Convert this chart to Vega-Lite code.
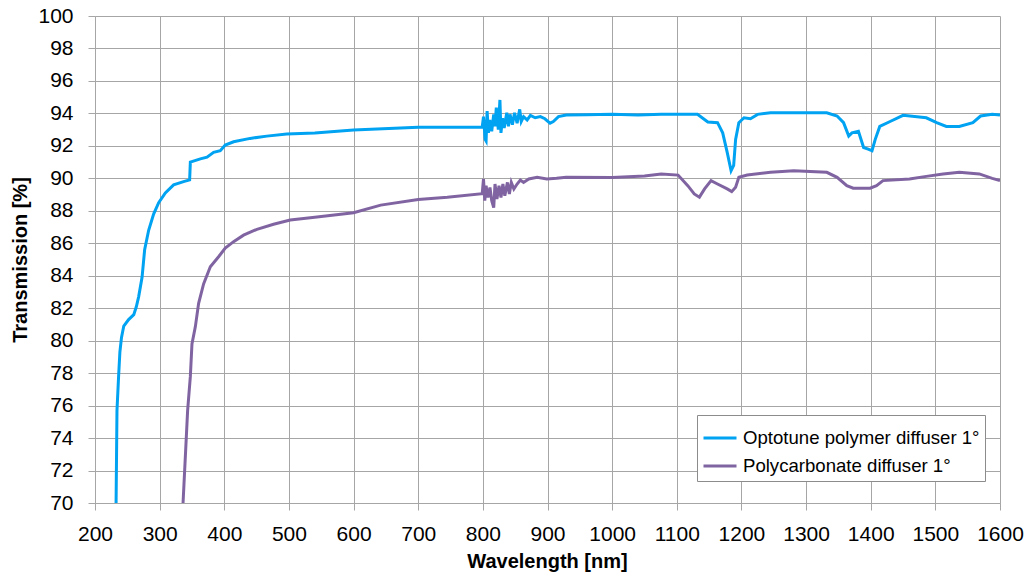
{
  "$schema": "https://vega.github.io/schema/vega-lite/v6.json",
  "width": 905,
  "height": 487,
  "autosize": "none",
  "padding": {"left": 95, "top": 16, "right": 27, "bottom": 77},
  "background": "white",
  "config": {"view": {"stroke": null}, "font": "Liberation Sans"},
  "data": {
    "values": [
      {"series": "Optotune polymer diffuser 1°", "wl": 232.6, "t": 70},
      {"series": "Optotune polymer diffuser 1°", "wl": 234, "t": 75.7},
      {"series": "Optotune polymer diffuser 1°", "wl": 236.5, "t": 77.8},
      {"series": "Optotune polymer diffuser 1°", "wl": 238.5, "t": 79.3},
      {"series": "Optotune polymer diffuser 1°", "wl": 241, "t": 80.2},
      {"series": "Optotune polymer diffuser 1°", "wl": 244.5, "t": 80.9},
      {"series": "Optotune polymer diffuser 1°", "wl": 252, "t": 81.3},
      {"series": "Optotune polymer diffuser 1°", "wl": 260, "t": 81.6},
      {"series": "Optotune polymer diffuser 1°", "wl": 264, "t": 82.1},
      {"series": "Optotune polymer diffuser 1°", "wl": 267.5, "t": 82.7},
      {"series": "Optotune polymer diffuser 1°", "wl": 272.8, "t": 83.9},
      {"series": "Optotune polymer diffuser 1°", "wl": 276.8, "t": 85.6},
      {"series": "Optotune polymer diffuser 1°", "wl": 283, "t": 86.8},
      {"series": "Optotune polymer diffuser 1°", "wl": 290.7, "t": 87.8},
      {"series": "Optotune polymer diffuser 1°", "wl": 298.5, "t": 88.5},
      {"series": "Optotune polymer diffuser 1°", "wl": 308.8, "t": 89.1},
      {"series": "Optotune polymer diffuser 1°", "wl": 321.6, "t": 89.6},
      {"series": "Optotune polymer diffuser 1°", "wl": 337, "t": 89.8},
      {"series": "Optotune polymer diffuser 1°", "wl": 346.4, "t": 89.9},
      {"series": "Optotune polymer diffuser 1°", "wl": 347.5, "t": 91.0},
      {"series": "Optotune polymer diffuser 1°", "wl": 363, "t": 91.2},
      {"series": "Optotune polymer diffuser 1°", "wl": 373.3, "t": 91.3},
      {"series": "Optotune polymer diffuser 1°", "wl": 383.5, "t": 91.6},
      {"series": "Optotune polymer diffuser 1°", "wl": 393.8, "t": 91.7},
      {"series": "Optotune polymer diffuser 1°", "wl": 401.5, "t": 92.05},
      {"series": "Optotune polymer diffuser 1°", "wl": 414.4, "t": 92.25},
      {"series": "Optotune polymer diffuser 1°", "wl": 440, "t": 92.46},
      {"series": "Optotune polymer diffuser 1°", "wl": 465.8, "t": 92.6},
      {"series": "Optotune polymer diffuser 1°", "wl": 496.6, "t": 92.73},
      {"series": "Optotune polymer diffuser 1°", "wl": 540, "t": 92.8},
      {"series": "Optotune polymer diffuser 1°", "wl": 600, "t": 92.98},
      {"series": "Optotune polymer diffuser 1°", "wl": 700, "t": 93.14},
      {"series": "Optotune polymer diffuser 1°", "wl": 799, "t": 93.15},
      {"series": "Optotune polymer diffuser 1°", "wl": 801, "t": 93.8},
      {"series": "Optotune polymer diffuser 1°", "wl": 803.5, "t": 92.4},
      {"series": "Optotune polymer diffuser 1°", "wl": 805, "t": 92.3},
      {"series": "Optotune polymer diffuser 1°", "wl": 806.6, "t": 94.15},
      {"series": "Optotune polymer diffuser 1°", "wl": 808.6, "t": 92.8},
      {"series": "Optotune polymer diffuser 1°", "wl": 810.7, "t": 93.6},
      {"series": "Optotune polymer diffuser 1°", "wl": 813.7, "t": 92.9},
      {"series": "Optotune polymer diffuser 1°", "wl": 816.8, "t": 93.94},
      {"series": "Optotune polymer diffuser 1°", "wl": 818.8, "t": 93.2},
      {"series": "Optotune polymer diffuser 1°", "wl": 820.8, "t": 94.35},
      {"series": "Optotune polymer diffuser 1°", "wl": 823.9, "t": 93.0},
      {"series": "Optotune polymer diffuser 1°", "wl": 826.4, "t": 94.83},
      {"series": "Optotune polymer diffuser 1°", "wl": 828, "t": 92.8},
      {"series": "Optotune polymer diffuser 1°", "wl": 830.5, "t": 93.7},
      {"series": "Optotune polymer diffuser 1°", "wl": 833, "t": 93.1},
      {"series": "Optotune polymer diffuser 1°", "wl": 837, "t": 94.04},
      {"series": "Optotune polymer diffuser 1°", "wl": 839.6, "t": 93.2},
      {"series": "Optotune polymer diffuser 1°", "wl": 842, "t": 93.94},
      {"series": "Optotune polymer diffuser 1°", "wl": 845.7, "t": 93.3},
      {"series": "Optotune polymer diffuser 1°", "wl": 849, "t": 94.04},
      {"series": "Optotune polymer diffuser 1°", "wl": 853, "t": 93.4},
      {"series": "Optotune polymer diffuser 1°", "wl": 857, "t": 94.25},
      {"series": "Optotune polymer diffuser 1°", "wl": 859.4, "t": 93.5},
      {"series": "Optotune polymer diffuser 1°", "wl": 863, "t": 93.8},
      {"series": "Optotune polymer diffuser 1°", "wl": 868.5, "t": 93.6},
      {"series": "Optotune polymer diffuser 1°", "wl": 873.6, "t": 93.88},
      {"series": "Optotune polymer diffuser 1°", "wl": 881, "t": 93.73},
      {"series": "Optotune polymer diffuser 1°", "wl": 889, "t": 93.8},
      {"series": "Optotune polymer diffuser 1°", "wl": 896, "t": 93.67},
      {"series": "Optotune polymer diffuser 1°", "wl": 901, "t": 93.5},
      {"series": "Optotune polymer diffuser 1°", "wl": 904, "t": 93.4},
      {"series": "Optotune polymer diffuser 1°", "wl": 909, "t": 93.5},
      {"series": "Optotune polymer diffuser 1°", "wl": 917, "t": 93.8},
      {"series": "Optotune polymer diffuser 1°", "wl": 929, "t": 93.9},
      {"series": "Optotune polymer diffuser 1°", "wl": 960, "t": 93.92},
      {"series": "Optotune polymer diffuser 1°", "wl": 1000, "t": 93.94},
      {"series": "Optotune polymer diffuser 1°", "wl": 1040, "t": 93.9},
      {"series": "Optotune polymer diffuser 1°", "wl": 1076, "t": 93.94},
      {"series": "Optotune polymer diffuser 1°", "wl": 1132, "t": 93.94},
      {"series": "Optotune polymer diffuser 1°", "wl": 1148, "t": 93.47},
      {"series": "Optotune polymer diffuser 1°", "wl": 1163, "t": 93.43},
      {"series": "Optotune polymer diffuser 1°", "wl": 1171, "t": 92.8},
      {"series": "Optotune polymer diffuser 1°", "wl": 1178, "t": 91.6},
      {"series": "Optotune polymer diffuser 1°", "wl": 1184, "t": 90.47},
      {"series": "Optotune polymer diffuser 1°", "wl": 1188, "t": 90.8},
      {"series": "Optotune polymer diffuser 1°", "wl": 1191, "t": 92.4},
      {"series": "Optotune polymer diffuser 1°", "wl": 1196, "t": 93.43},
      {"series": "Optotune polymer diffuser 1°", "wl": 1204, "t": 93.73},
      {"series": "Optotune polymer diffuser 1°", "wl": 1214, "t": 93.67},
      {"series": "Optotune polymer diffuser 1°", "wl": 1225, "t": 93.94},
      {"series": "Optotune polymer diffuser 1°", "wl": 1245, "t": 94.04},
      {"series": "Optotune polymer diffuser 1°", "wl": 1281, "t": 94.04},
      {"series": "Optotune polymer diffuser 1°", "wl": 1332, "t": 94.04},
      {"series": "Optotune polymer diffuser 1°", "wl": 1348, "t": 93.84},
      {"series": "Optotune polymer diffuser 1°", "wl": 1358, "t": 93.43},
      {"series": "Optotune polymer diffuser 1°", "wl": 1366, "t": 92.6},
      {"series": "Optotune polymer diffuser 1°", "wl": 1371, "t": 92.8},
      {"series": "Optotune polymer diffuser 1°", "wl": 1381, "t": 92.9},
      {"series": "Optotune polymer diffuser 1°", "wl": 1389, "t": 91.9},
      {"series": "Optotune polymer diffuser 1°", "wl": 1396, "t": 91.8},
      {"series": "Optotune polymer diffuser 1°", "wl": 1402, "t": 91.7},
      {"series": "Optotune polymer diffuser 1°", "wl": 1407, "t": 92.4},
      {"series": "Optotune polymer diffuser 1°", "wl": 1414, "t": 93.2},
      {"series": "Optotune polymer diffuser 1°", "wl": 1430, "t": 93.5},
      {"series": "Optotune polymer diffuser 1°", "wl": 1450, "t": 93.88},
      {"series": "Optotune polymer diffuser 1°", "wl": 1486, "t": 93.73},
      {"series": "Optotune polymer diffuser 1°", "wl": 1502, "t": 93.43},
      {"series": "Optotune polymer diffuser 1°", "wl": 1517, "t": 93.2},
      {"series": "Optotune polymer diffuser 1°", "wl": 1537, "t": 93.2},
      {"series": "Optotune polymer diffuser 1°", "wl": 1558, "t": 93.43},
      {"series": "Optotune polymer diffuser 1°", "wl": 1570, "t": 93.84},
      {"series": "Optotune polymer diffuser 1°", "wl": 1588, "t": 93.94},
      {"series": "Optotune polymer diffuser 1°", "wl": 1600, "t": 93.9},
      {"series": "Polycarbonate diffuser 1°", "wl": 336.2, "t": 70},
      {"series": "Polycarbonate diffuser 1°", "wl": 343.3, "t": 75.7},
      {"series": "Polycarbonate diffuser 1°", "wl": 347.5, "t": 77.8},
      {"series": "Polycarbonate diffuser 1°", "wl": 350, "t": 79.8},
      {"series": "Polycarbonate diffuser 1°", "wl": 355.2, "t": 80.85},
      {"series": "Polycarbonate diffuser 1°", "wl": 360.3, "t": 82.3},
      {"series": "Polycarbonate diffuser 1°", "wl": 368, "t": 83.5},
      {"series": "Polycarbonate diffuser 1°", "wl": 378.4, "t": 84.55},
      {"series": "Polycarbonate diffuser 1°", "wl": 391.2, "t": 85.17},
      {"series": "Polycarbonate diffuser 1°", "wl": 401.5, "t": 85.7},
      {"series": "Polycarbonate diffuser 1°", "wl": 414.4, "t": 86.1},
      {"series": "Polycarbonate diffuser 1°", "wl": 429.8, "t": 86.5},
      {"series": "Polycarbonate diffuser 1°", "wl": 450.5, "t": 86.86},
      {"series": "Polycarbonate diffuser 1°", "wl": 476.2, "t": 87.17},
      {"series": "Polycarbonate diffuser 1°", "wl": 502, "t": 87.43},
      {"series": "Polycarbonate diffuser 1°", "wl": 540, "t": 87.6},
      {"series": "Polycarbonate diffuser 1°", "wl": 600, "t": 87.88},
      {"series": "Polycarbonate diffuser 1°", "wl": 642, "t": 88.35},
      {"series": "Polycarbonate diffuser 1°", "wl": 700, "t": 88.7},
      {"series": "Polycarbonate diffuser 1°", "wl": 745, "t": 88.83},
      {"series": "Polycarbonate diffuser 1°", "wl": 799, "t": 89.05},
      {"series": "Polycarbonate diffuser 1°", "wl": 801, "t": 89.96},
      {"series": "Polycarbonate diffuser 1°", "wl": 803, "t": 88.62},
      {"series": "Polycarbonate diffuser 1°", "wl": 805, "t": 89.55},
      {"series": "Polycarbonate diffuser 1°", "wl": 808, "t": 88.82},
      {"series": "Polycarbonate diffuser 1°", "wl": 811, "t": 89.44},
      {"series": "Polycarbonate diffuser 1°", "wl": 813.7, "t": 88.62},
      {"series": "Polycarbonate diffuser 1°", "wl": 816.8, "t": 88.2},
      {"series": "Polycarbonate diffuser 1°", "wl": 818.8, "t": 89.65},
      {"series": "Polycarbonate diffuser 1°", "wl": 821.8, "t": 88.72},
      {"series": "Polycarbonate diffuser 1°", "wl": 825, "t": 89.55},
      {"series": "Polycarbonate diffuser 1°", "wl": 828, "t": 88.82},
      {"series": "Polycarbonate diffuser 1°", "wl": 831, "t": 89.65},
      {"series": "Polycarbonate diffuser 1°", "wl": 834, "t": 88.93},
      {"series": "Polycarbonate diffuser 1°", "wl": 838, "t": 89.75},
      {"series": "Polycarbonate diffuser 1°", "wl": 841, "t": 89.03},
      {"series": "Polycarbonate diffuser 1°", "wl": 844, "t": 89.75},
      {"series": "Polycarbonate diffuser 1°", "wl": 848, "t": 89.34},
      {"series": "Polycarbonate diffuser 1°", "wl": 853, "t": 89.65},
      {"series": "Polycarbonate diffuser 1°", "wl": 858, "t": 89.9},
      {"series": "Polycarbonate diffuser 1°", "wl": 863, "t": 89.75},
      {"series": "Polycarbonate diffuser 1°", "wl": 871, "t": 89.96},
      {"series": "Polycarbonate diffuser 1°", "wl": 884, "t": 90.06},
      {"series": "Polycarbonate diffuser 1°", "wl": 899, "t": 89.96},
      {"series": "Polycarbonate diffuser 1°", "wl": 914, "t": 90.0},
      {"series": "Polycarbonate diffuser 1°", "wl": 929, "t": 90.06},
      {"series": "Polycarbonate diffuser 1°", "wl": 1000, "t": 90.05},
      {"series": "Polycarbonate diffuser 1°", "wl": 1050, "t": 90.15},
      {"series": "Polycarbonate diffuser 1°", "wl": 1076, "t": 90.27},
      {"series": "Polycarbonate diffuser 1°", "wl": 1102, "t": 90.2},
      {"series": "Polycarbonate diffuser 1°", "wl": 1117, "t": 89.55},
      {"series": "Polycarbonate diffuser 1°", "wl": 1127, "t": 89.04},
      {"series": "Polycarbonate diffuser 1°", "wl": 1135, "t": 88.84},
      {"series": "Polycarbonate diffuser 1°", "wl": 1143, "t": 89.35},
      {"series": "Polycarbonate diffuser 1°", "wl": 1153, "t": 89.86},
      {"series": "Polycarbonate diffuser 1°", "wl": 1163, "t": 89.65},
      {"series": "Polycarbonate diffuser 1°", "wl": 1178, "t": 89.35},
      {"series": "Polycarbonate diffuser 1°", "wl": 1185, "t": 89.18},
      {"series": "Polycarbonate diffuser 1°", "wl": 1191, "t": 89.45},
      {"series": "Polycarbonate diffuser 1°", "wl": 1196, "t": 90.06},
      {"series": "Polycarbonate diffuser 1°", "wl": 1209, "t": 90.2},
      {"series": "Polycarbonate diffuser 1°", "wl": 1245, "t": 90.37},
      {"series": "Polycarbonate diffuser 1°", "wl": 1281, "t": 90.47},
      {"series": "Polycarbonate diffuser 1°", "wl": 1332, "t": 90.37},
      {"series": "Polycarbonate diffuser 1°", "wl": 1348, "t": 90.06},
      {"series": "Polycarbonate diffuser 1°", "wl": 1363, "t": 89.55},
      {"series": "Polycarbonate diffuser 1°", "wl": 1373, "t": 89.39},
      {"series": "Polycarbonate diffuser 1°", "wl": 1399, "t": 89.39},
      {"series": "Polycarbonate diffuser 1°", "wl": 1409, "t": 89.55},
      {"series": "Polycarbonate diffuser 1°", "wl": 1419, "t": 89.86},
      {"series": "Polycarbonate diffuser 1°", "wl": 1460, "t": 89.96},
      {"series": "Polycarbonate diffuser 1°", "wl": 1486, "t": 90.12},
      {"series": "Polycarbonate diffuser 1°", "wl": 1512, "t": 90.27},
      {"series": "Polycarbonate diffuser 1°", "wl": 1537, "t": 90.37},
      {"series": "Polycarbonate diffuser 1°", "wl": 1568, "t": 90.27},
      {"series": "Polycarbonate diffuser 1°", "wl": 1588, "t": 90.0},
      {"series": "Polycarbonate diffuser 1°", "wl": 1600, "t": 89.86}
    ]
  },
  "mark": {"type": "line", "strokeWidth": 3, "clip": true},
  "encoding": {
    "x": {
      "field": "wl",
      "type": "quantitative",
      "scale": {"domain": [200, 1600], "nice": false, "zero": false},
      "axis": {
        "values": [200, 300, 400, 500, 600, 700, 800, 900, 1000, 1100, 1200, 1300, 1400, 1500, 1600],
        "format": "d",
        "grid": true,
        "gridColor": "#a6a6a6",
        "gridOpacity": 1,
        "domainColor": "#a6a6a6",
        "tickColor": "#a6a6a6",
        "tickSize": 7,
        "labelFontSize": 21,
        "labelColor": "#000000",
        "labelPadding": 13,
        "labelFlush": false,
        "labelOverlap": false,
        "title": "Wavelength [nm]",
        "titleFontSize": 20,
        "titleFontWeight": "bold",
        "titleColor": "#000000",
        "titleX": 452,
        "titleY": 58,
        "titleBaseline": "middle",
        "titleAlign": "center"
      }
    },
    "y": {
      "field": "t",
      "type": "quantitative",
      "scale": {"domain": [70, 100], "nice": false, "zero": false},
      "axis": {
        "values": [70, 72, 74, 76, 78, 80, 82, 84, 86, 88, 90, 92, 94, 96, 98, 100],
        "format": "d",
        "grid": true,
        "gridColor": "#a6a6a6",
        "gridOpacity": 1,
        "domainColor": "#a6a6a6",
        "tickColor": "#a6a6a6",
        "tickSize": 7,
        "labelFontSize": 21,
        "labelColor": "#000000",
        "labelPadding": 15,
        "labelFlush": false,
        "labelOverlap": false,
        "title": "Transmission [%]",
        "titleFontSize": 20,
        "titleFontWeight": "bold",
        "titleColor": "#000000",
        "titleAngle": -90,
        "titleX": -75,
        "titleY": 243.5,
        "titleBaseline": "middle",
        "titleAlign": "center"
      }
    },
    "color": {
      "field": "series",
      "type": "nominal",
      "scale": {
        "domain": ["Optotune polymer diffuser 1°", "Polycarbonate diffuser 1°"],
        "range": ["#00A2F2", "#8064A2"]
      },
      "legend": {
        "title": null,
        "orient": "none",
        "legendX": 602,
        "legendY": 399,
        "fillColor": "white",
        "strokeColor": "#8c8c8c",
        "padding": 5,
        "cornerRadius": 0,
        "symbolType": "stroke",
        "symbolSize": 1089,
        "symbolStrokeWidth": 3,
        "labelFontSize": 18.6,
        "labelColor": "#000000",
        "labelOffset": 5,
        "labelLimit": 400,
        "rowPadding": 0
      }
    }
  }
}
